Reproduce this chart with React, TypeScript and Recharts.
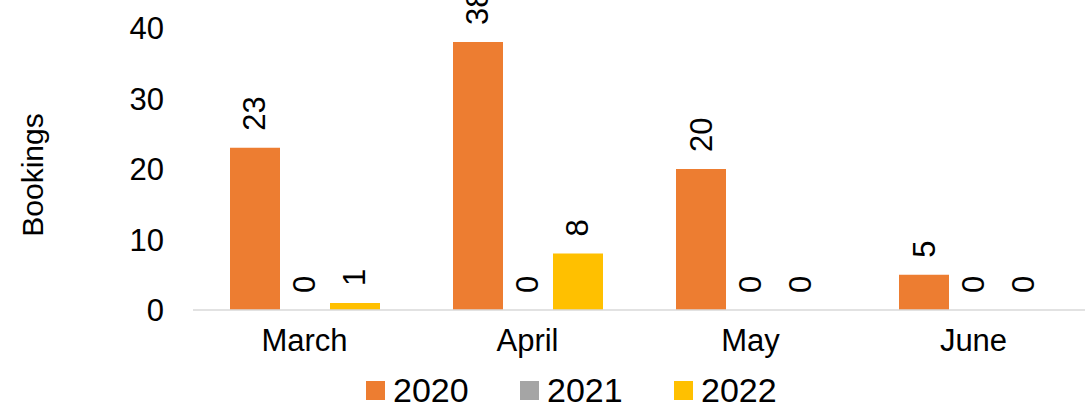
import { Bar, BarChart, LabelList, Legend, XAxis, YAxis } from 'recharts'

const months = ['March', 'April', 'May', 'June']
const bookings2020 = [23, 38, 20, 5]
const bookings2021 = [0, 0, 0, 0]
const bookings2022 = [1, 8, 0, 0]
const yTicks = [0, 10, 20, 30, 40]

const series = [
  { key: 'y2020', name: '2020', color: '#ED7D31' },
  { key: 'y2021', name: '2021', color: '#A5A5A5' },
  { key: 'y2022', name: '2022', color: '#FFC000' }
]

const chartData = months.map((m, i) => ({
  name: m,
  y2020: bookings2020[i],
  y2021: bookings2021[i],
  y2022: bookings2022[i]
}))

const font = '"Liberation Sans", Arial, sans-serif'

// zero-height bars get dropped along with their labels, so give them a hair of height
const minSize = (value: any) => (Number(value) === 0 ? 0.01 : 0)

const renderLabel = (props: any) => {
  const { x, y, width, height, value } = props
  const cx = Number(x) + Number(width) / 2
  const top = Math.min(Number(y), Number(y) + Number(height || 0))
  const ty = top - 17
  return (
    <text
      x={cx}
      y={ty}
      transform={`rotate(-90, ${cx}, ${ty})`}
      textAnchor="start"
      dominantBaseline="central"
      fontSize={31}
      fontFamily={font}
      fill="#000"
    >
      {value}
    </text>
  )
}

const renderLegend = () => (
  <div style={{ display: 'flex', paddingLeft: 366, fontFamily: font }}>
    {series.map((s) => (
      <div key={s.key} style={{ display: 'flex', alignItems: 'center', width: 154, height: 34 }}>
        <span style={{ width: 19, height: 19, background: s.color, marginRight: 8 }} />
        <span style={{ fontSize: 34, lineHeight: '34px', color: '#000' }}>{s.name}</span>
      </div>
    ))}
  </div>
)

export default function App() {
  return (
    <div style={{ position: 'absolute', left: 0, top: 0, background: '#fff' }}>
      <BarChart
        width={1092}
        height={407}
        data={chartData}
        margin={{ top: 28, right: 7, left: 0, bottom: 67 }}
        barCategoryGap={37}
        barGap={0}
      >
        <XAxis
          dataKey="name"
          axisLine={{ stroke: '#d9d9d9', strokeWidth: 1.5 }}
          tickLine={false}
          tickMargin={13}
          tick={{ fill: '#000', fontSize: 31, fontFamily: font }}
          height={30}
        />
        <YAxis
          domain={[0, 40]}
          ticks={yTicks}
          width={193}
          axisLine={false}
          tickLine={false}
          tickMargin={23}
          tick={{ fill: '#000', fontSize: 31, fontFamily: font }}
          label={() => (
            <text
              x={43}
              y={175}
              transform="rotate(-90, 43, 175)"
              textAnchor="middle"
              fontSize={30}
              fontFamily={font}
              fill="#000"
            >
              Bookings
            </text>
          )}
        />
        <Legend
          layout="horizontal"
          verticalAlign="middle"
          align="center"
          wrapperStyle={{ top: 373, left: 0, width: 1092 }}
          content={renderLegend}
        />
        {series.map((s) => (
          <Bar
            key={s.key}
            dataKey={s.key}
            name={s.name}
            fill={s.color}
            minPointSize={minSize}
            isAnimationActive={false}
          >
            <LabelList dataKey={s.key} content={renderLabel} />
          </Bar>
        ))}
      </BarChart>
    </div>
  )
}
